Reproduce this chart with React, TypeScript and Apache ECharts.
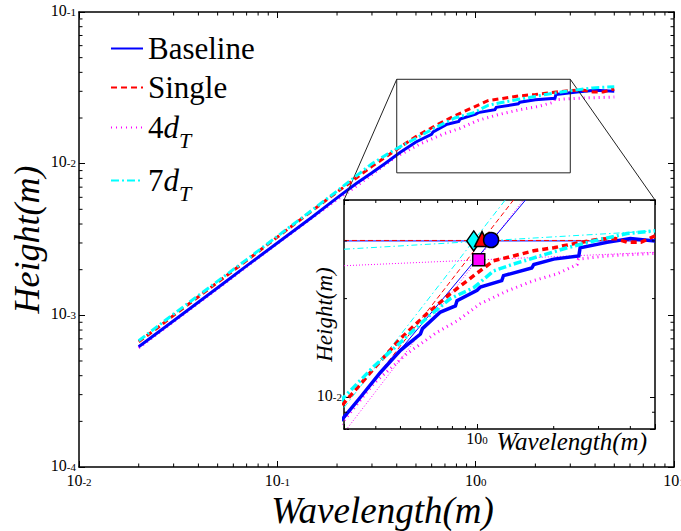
import React, { useEffect, useRef } from 'react';
import * as echarts from 'echarts';

const FONT = 'Liberation Serif';

// ---- Data: [wavelength (m), height (m)] ----
const baseline: number[][] = [
  [0.02, 6.2e-4], [0.03, 9.2e-4], [0.05, 1.52e-3], [0.07, 2.12e-3], [0.1, 3.0e-3],
  [0.15, 4.45e-3], [0.2, 5.95e-3], [0.25, 7.4e-3], [0.3, 8.7e-3], [0.348, 0.0100],
  [0.417, 0.0119], [0.5, 0.0139], [0.599, 0.0156], [0.61, 0.0162], [0.718, 0.0182],
  [0.822, 0.0190], [0.834, 0.0197], [1.0, 0.0212], [1.03, 0.0217], [1.25, 0.0227],
  [1.27, 0.0235], [1.64, 0.0248], [1.67, 0.0254], [2.0, 0.0264], [2.51, 0.0270],
  [2.54, 0.0286], [3.24, 0.0297], [4.0, 0.0305], [5.0, 0.0300],
];
const single: number[][] = [
  [0.02, 6.7e-4], [0.025, 8.3e-4], [0.03, 1.0e-3], [0.05, 1.65e-3], [0.07, 2.3e-3],
  [0.1, 3.28e-3], [0.15, 4.9e-3], [0.2, 6.5e-3], [0.25, 8.05e-3], [0.3, 9.6e-3],
  [0.392, 0.0122], [0.5, 0.0151], [0.636, 0.0180], [0.785, 0.0207], [0.97, 0.0235],
  [1.16, 0.0261], [1.39, 0.0270], [1.67, 0.0280], [2.0, 0.0286], [2.55, 0.0297],
  [3.05, 0.0304], [3.5, 0.0305], [3.9, 0.0297], [4.4, 0.0297], [5.0, 0.0311],
];
const fourDT: number[][] = [
  [0.02, 6.1e-4], [0.03, 9.1e-4], [0.05, 1.5e-3], [0.07, 2.1e-3], [0.1, 2.98e-3],
  [0.15, 4.4e-3], [0.2, 5.8e-3], [0.25, 7.1e-3], [0.3, 8.5e-3], [0.392, 0.0110],
  [0.531, 0.0136], [0.697, 0.0158], [0.834, 0.0171], [1.03, 0.0193], [1.31, 0.0211],
  [1.67, 0.0227], [2.06, 0.0238], [2.47, 0.0254], [2.5, 0.0264], [3.24, 0.0270],
  [5.0, 0.0275],
];
const sevenDT: number[][] = [
  [0.02, 6.8e-4], [0.03, 1.02e-3], [0.05, 1.68e-3], [0.07, 2.33e-3], [0.1, 3.32e-3],
  [0.15, 4.95e-3], [0.2, 6.6e-3], [0.25, 8.3e-3], [0.3, 0.0100], [0.392, 0.0124],
  [0.5, 0.0147], [0.636, 0.0175], [0.785, 0.0200], [0.97, 0.0216], [1.16, 0.0243],
  [1.39, 0.0255], [1.77, 0.0270], [2.26, 0.0286], [2.87, 0.0300], [3.88, 0.0316],
  [5.0, 0.0322],
];

// Inset asymptote lines (rising and level branches)
const baselineRise = [[0.3, 0.0087], [1.55, 0.040]];
const baselineLevel = [[0.3, 0.0300], [5, 0.0300]];
const singleRise = [[0.3, 0.0086], [1.39, 0.040]];
const singleLevel = [[0.3, 0.0301], [5, 0.0301]];
const fourDTRise = [[0.3, 0.0078], [1.52, 0.040]];
const fourDTLevel = [[0.3, 0.0252], [5, 0.0277]];
const sevenDTRise = [[0.3, 0.0093], [1.29, 0.040]];
const sevenDTLevel = [[0.3, 0.0283], [5, 0.0322]];

// Corner points (intersections)
const baselineCorner = [[1.135, 0.0302]];
const singleCorner = [[1.046, 0.0304]];
const fourDTCorner = [[1.015, 0.0263]];
const sevenDTCorner = [[0.97, 0.0300]];

// Axis ranges
const MAIN_X = [0.01, 10];
const MAIN_Y = [1e-4, 0.1];
const INSET_X = [0.3, 5];
const INSET_Y = [0.008, 0.04];
const ZOOM_X = [0.4, 3];
const ZOOM_Y = [0.0087, 0.036];

const legendNames = ['Baseline', 'Single', '4dT', '7dT'];
const legendTops = [33, 72, 112, 165];

const COLORS: Record<string, string> = {
  Baseline: '#0000ff',
  Single: '#ff0000',
  '4dT': '#ff00ff',
  '7dT': '#00ffff',
};

function minorTicks(lo: number, hi: number) {
  const out: number[] = [];
  for (let e = Math.floor(Math.log10(lo)); e <= Math.ceil(Math.log10(hi)); e++) {
    for (let m = 2; m <= 9; m++) {
      const v = m * Math.pow(10, e);
      if (v > lo * 1.0001 && v < hi * 0.9999) out.push(v);
    }
  }
  return out;
}

function decadeLabel(v: number) {
  const e = Math.log10(v);
  const r = Math.round(e);
  if (Math.abs(e - r) > 1e-6) return '';
  return `{b|10}{s|${r}}`;
}

const labelRich = {
  b: { fontFamily: FONT, fontSize: 16, lineHeight: 12, color: '#000', padding: [5, 0, 0, 0], verticalAlign: 'bottom' },
  s: { fontFamily: FONT, fontSize: 11, lineHeight: 8, color: '#000', verticalAlign: 'top' },
};

function logAxis(o: any) {
  return {
    type: 'log',
    logBase: 10,
    min: o.range[0],
    max: o.range[1],
    gridIndex: o.grid,
    position: o.position,
    z: o.z ?? 0,
    splitLine: { show: false },
    axisLine: { show: true, lineStyle: { color: '#000', width: 1.5 } },
    axisTick: { show: true, inside: true, length: o.tickLen ?? 6, lineStyle: { color: '#000', width: 1 } },
    axisLabel: o.labels
      ? { show: true, formatter: decadeLabel, margin: o.margin ?? 5, rich: labelRich, color: '#000', fontFamily: FONT }
      : { show: false },
    name: o.name ?? '',
    nameLocation: o.nameLocation ?? 'middle',
    nameGap: o.nameGap ?? 15,
    nameRotate: o.nameRotate,
    nameMoveOverlap: false,
    nameTextStyle: o.nameTextStyle,
    silent: true,
  };
}

function tickSeries(axisIdx: number, xTicks: number[], yTicks: number[], xAnchor: number, yAnchor: number, len: number, z: number) {
  const data = [
    ...xTicks.map((v) => [v, yAnchor, 0, len]),
    ...yTicks.map((v) => [xAnchor, v, 1, len]),
  ];
  return {
    type: 'custom',
    xAxisIndex: axisIdx,
    yAxisIndex: axisIdx,
    silent: true,
    z,
    clip: false,
    dimensions: ['x', 'y', 'k', 'len'],
    encode: { x: 0, y: 1 },
    data,
    renderItem: (params: any, api: any) => {
      const cs = params.coordSys;
      const p = api.coord([api.value(0), api.value(1)]);
      const L = api.value(3);
      const st = { stroke: '#000', lineWidth: 1, fill: null };
      if (api.value(2) === 0) {
        const x = p[0];
        return {
          type: 'group',
          children: [
            { type: 'line', shape: { x1: x, y1: cs.y + cs.height, x2: x, y2: cs.y + cs.height - L }, style: st },
            { type: 'line', shape: { x1: x, y1: cs.y, x2: x, y2: cs.y + L }, style: st },
          ],
        };
      }
      const y = p[1];
      return {
        type: 'group',
        children: [
          { type: 'line', shape: { x1: cs.x, y1: y, x2: cs.x + L, y2: y }, style: st },
          { type: 'line', shape: { x1: cs.x + cs.width, y1: y, x2: cs.x + cs.width - L, y2: y }, style: st },
        ],
      };
    },
  };
}

function curve(name: string, data: number[][], type: any, width: number, axisIdx: number, z: number) {
  const color = COLORS[name];
  return {
    type: 'line',
    name,
    data,
    xAxisIndex: axisIdx,
    yAxisIndex: axisIdx,
    symbol: 'none',
    showSymbol: false,
    z,
    silent: true,
    lineStyle: { color, type, width, cap: 'butt', join: 'miter' },
    itemStyle: { color },
    emphasis: { disabled: true },
  };
}

function thin(key: string, data: number[][], type: any, z: number) {
  const color = COLORS[key];
  return {
    type: 'line',
    name: key + ' asymptote',
    data,
    xAxisIndex: 2,
    yAxisIndex: 2,
    symbol: 'none',
    z,
    silent: true,
    lineStyle: { color, type, width: 1, cap: 'butt' },
    itemStyle: { color },
    emphasis: { disabled: true },
  };
}

function marker(key: string, data: number[][], symbol: string, size: any, z: number) {
  return {
    type: 'scatter',
    name: key + ' corner',
    data,
    xAxisIndex: 2,
    yAxisIndex: 2,
    symbol,
    symbolSize: size,
    z,
    silent: true,
    itemStyle: { color: COLORS[key], borderColor: '#000', borderWidth: 1.5, opacity: 1 },
    emphasis: { disabled: true },
  };
}

function legendLabel(name: string) {
  const m = name.match(/^(\d)dT$/);
  if (m) return `{n|${m[1]}}{i|d}{t|T}`;
  return `{n|${name}}`;
}

const DASH = [6, 4];
const DOT = [1, 4];
const DASHDOT = [8, 3, 2, 3];

const option: any = {
  animation: false,
  backgroundColor: '#fff',
  textStyle: { fontFamily: FONT },
  grid: [
    { left: 79, top: 12, width: 595, height: 455, containLabel: false, outerBoundsMode: 'none', show: false },
    { left: 344, top: 200, width: 311, height: 229, containLabel: false, outerBoundsMode: 'none', show: true, backgroundColor: '#fff', borderWidth: 0, z: 5 },
  ],
  xAxis: [
    logAxis({
      range: MAIN_X, grid: 0, position: 'bottom', labels: true, margin: 9,
      name: 'Wavelength(m)', nameGap: 25,
      nameTextStyle: { fontFamily: FONT, fontStyle: 'italic', fontSize: 37, color: '#000', padding: [0, 0, 0, 12] },
    }),
    logAxis({ range: MAIN_X, grid: 0, position: 'top' }),
    logAxis({
      range: INSET_X, grid: 1, position: 'bottom', labels: true, margin: 5, z: 6, tickLen: 5,
      name: 'Wavelength(m)', nameLocation: 'end', nameGap: -8,
      nameTextStyle: { fontFamily: FONT, fontStyle: 'italic', fontSize: 25, color: '#000', align: 'right', verticalAlign: 'top' },
    }),
    logAxis({ range: INSET_X, grid: 1, position: 'top', z: 6, tickLen: 5 }),
  ],
  yAxis: [
    logAxis({
      range: MAIN_Y, grid: 0, position: 'left', labels: true, margin: 3,
      name: 'Height(m)', nameGap: 34, nameRotate: 90,
      nameTextStyle: { fontFamily: FONT, fontStyle: 'italic', fontSize: 36, color: '#000' },
    }),
    logAxis({ range: MAIN_Y, grid: 0, position: 'right' }),
    logAxis({
      range: INSET_Y, grid: 1, position: 'left', labels: true, margin: 2, z: 6, tickLen: 5,
      name: 'Height(m)', nameGap: 8, nameRotate: 90,
      nameTextStyle: { fontFamily: FONT, fontStyle: 'italic', fontSize: 23, color: '#000' },
    }),
    logAxis({ range: INSET_Y, grid: 1, position: 'right', z: 6, tickLen: 5 }),
  ],
  legend: legendNames.map((n, i) => ({
    data: [n],
    left: 110,
    top: legendTops[i],
    orient: 'vertical',
    padding: 0,
    itemWidth: 32,
    itemHeight: 14,
    itemGap: 0,
    selectedMode: false,
    formatter: legendLabel,
    itemStyle: { color: 'rgba(0,0,0,0)', borderWidth: 0, opacity: 0 },
    textStyle: {
      color: '#000',
      fontFamily: FONT,
      fontSize: 31,
      rich: {
        n: { fontFamily: FONT, fontSize: 31, color: '#000' },
        i: { fontFamily: FONT, fontSize: 31, fontStyle: 'italic', color: '#000' },
        t: { fontFamily: FONT, fontSize: 22, fontStyle: 'italic', color: '#000', padding: [26, 0, 0, 0] },
      },
    },
  })),
  series: [
    // main plot
    curve('4dT', fourDT, DOT, 3, 0, 2),
    curve('Baseline', baseline, 'solid', 3, 0, 3),
    curve('Single', single, DASH, 3, 0, 4),
    curve('7dT', sevenDT, DASHDOT, 3, 0, 4),
    {
      type: 'line',
      name: 'zoom box',
      xAxisIndex: 0,
      yAxisIndex: 0,
      symbol: 'none',
      silent: true,
      z: 3,
      data: [
        [ZOOM_X[0], ZOOM_Y[0]], [ZOOM_X[1], ZOOM_Y[0]], [ZOOM_X[1], ZOOM_Y[1]],
        [ZOOM_X[0], ZOOM_Y[1]], [ZOOM_X[0], ZOOM_Y[0]],
      ],
      lineStyle: { color: '#222', width: 1 },
      itemStyle: { color: '#222' },
    },
    tickSeries(0, minorTicks(MAIN_X[0], MAIN_X[1]), minorTicks(MAIN_Y[0], MAIN_Y[1]), MAIN_X[0], MAIN_Y[0], 3.5, 3),
    // inset
    thin('4dT', fourDTRise, [1, 2], 7),
    thin('4dT', fourDTLevel, [1, 2], 7),
    thin('Baseline', baselineRise, 'solid', 7),
    thin('Baseline', baselineLevel, 'solid', 7),
    thin('Single', singleRise, [5, 3], 7),
    thin('Single', singleLevel, [5, 3], 7),
    thin('7dT', sevenDTRise, [6, 3, 1.5, 3], 7),
    thin('7dT', sevenDTLevel, [6, 3, 1.5, 3], 7),
    curve('4dT', fourDT, DOT, 3, 2, 8),
    curve('Baseline', baseline, 'solid', 3.5, 2, 9),
    curve('Single', single, DASH, 3.5, 2, 10),
    curve('7dT', sevenDT, DASHDOT, 3.5, 2, 10),
    marker('4dT', fourDTCorner, 'rect', 12, 11),
    marker('7dT', sevenDTCorner, 'diamond', [14, 20], 11),
    marker('Single', singleCorner, 'triangle', 15, 12),
    marker('Baseline', baselineCorner, 'circle', 15, 13),
    tickSeries(2, minorTicks(INSET_X[0], INSET_X[1]), minorTicks(INSET_Y[0], INSET_Y[1]), INSET_X[0], INSET_Y[0], 3, 12),
  ],
};

export default function App() {
  const ref = useRef<HTMLDivElement>(null);
  useEffect(() => {
    document.body.style.margin = '0';
    const chart = echarts.init(ref.current!, undefined, { renderer: 'svg' });
    chart.setOption(option);
    const boxTL = chart.convertToPixel({ gridIndex: 0 } as any, [ZOOM_X[0], ZOOM_Y[1]]) as number[];
    const boxTR = chart.convertToPixel({ gridIndex: 0 } as any, [ZOOM_X[1], ZOOM_Y[1]]) as number[];
    const insTL = chart.convertToPixel({ gridIndex: 1 } as any, [INSET_X[0], INSET_Y[1]]) as number[];
    const insTR = chart.convertToPixel({ gridIndex: 1 } as any, [INSET_X[1], INSET_Y[1]]) as number[];
    chart.setOption({
      graphic: [
        { type: 'line', z: 4, silent: true, shape: { x1: boxTL[0], y1: boxTL[1], x2: insTL[0], y2: insTL[1] }, style: { stroke: '#222', lineWidth: 1 } },
        { type: 'line', z: 4, silent: true, shape: { x1: boxTR[0], y1: boxTR[1], x2: insTR[0], y2: insTR[1] }, style: { stroke: '#222', lineWidth: 1 } },
      ],
    });
    return () => chart.dispose();
  }, []);
  return <div ref={ref} style={{ width: 681, height: 531, background: '#fff' }} />;
}
